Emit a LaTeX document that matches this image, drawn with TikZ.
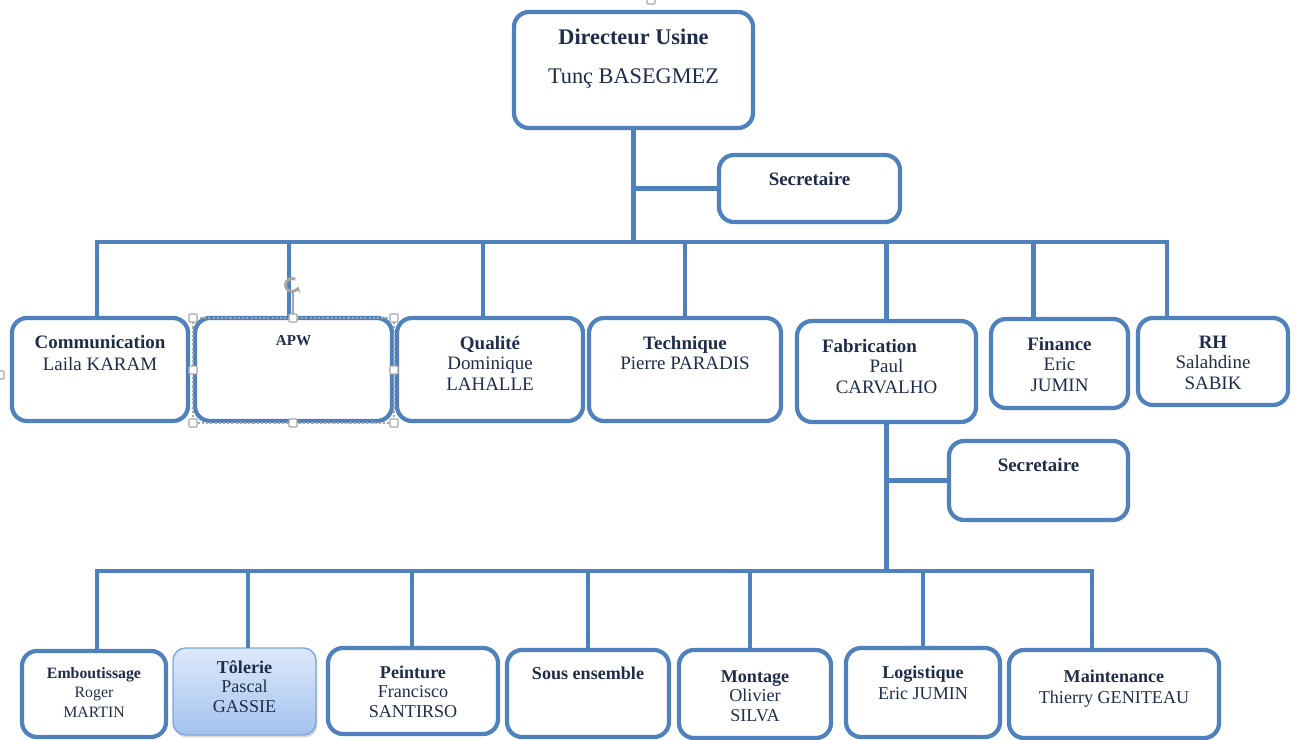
\documentclass[tikz,border=0pt]{standalone}
\usepackage{fontspec}
\setmainfont{Liberation Serif}
\usetikzlibrary{calc,shadows,arrows.meta}
\definecolor{orgline}{HTML}{4F81BD}
\definecolor{orgtext}{HTML}{1F2D4A}
\definecolor{handlegray}{HTML}{A6A6A6}
\definecolor{tolTop}{HTML}{DDE9FB}
\definecolor{tolBot}{HTML}{A3C2EE}
\definecolor{tolEdge}{HTML}{7FA5DA}
% one drawing unit = one pixel of the chart
\newlength\pxu
\setlength\pxu{0.02cm}
% box body: width, height, first baseline from top, lines
\newcommand\boxbody[4]{\parbox[c][#2\pxu][t]{#1\pxu}{\centering\rule{0pt}{#3\pxu}#4\par}}
\newcommand\fdir{\fontsize{12.7}{22.1}\selectfont}
\newcommand\fone{\fontsize{10.8}{11.9}\selectfont}
\newcommand\ftwo{\fontsize{10.3}{11.3}\selectfont}
\newcommand\fsmall{\fontsize{9}{11.1}\selectfont}
\newcommand\fapw{\fontsize{8.6}{10}\selectfont}
\tikzset{
  orgbox/.style={draw=orgline, line width=2.4pt, rounded corners=0.3cm, fill=white,
    inner sep=0pt, outer sep=0pt, text=orgtext, anchor=north west},
  tolbox/.style={orgbox, draw=tolEdge, line width=0.8pt, rounded corners=0.25cm,
    top color=tolTop, bottom color=tolBot,
    drop shadow={shadow xshift=0.8pt, shadow yshift=-1.4pt, fill=black!30}},
  link/.style={draw=orgline, line width=2.4pt},
  selframe/.style={draw=handlegray, line width=0.6pt, dash pattern=on 1.2pt off 1.2pt},
  handle/.style={draw=handlegray, fill=white, line width=0.6pt, rounded corners=0.5pt,
    minimum size=8\pxu, inner sep=0pt, outer sep=0pt},
}
\begin{document}
\begin{tikzpicture}[x=0.02cm, y=-0.02cm]
\useasboundingbox (0,0) rectangle (1296,740);
\fill[white] (0,0) rectangle (1296,740);

% ---- top level
\node[orgbox] (dir) at (514,12) {\boxbody{239}{116}{33}{\fdir\textbf{Directeur Usine}\\Tunç BASEGMEZ}};
\node[orgbox] (sec1) at (719,155) {\boxbody{181}{67}{31}{\fone\textbf{Secretaire}}};

% ---- departments
\node[orgbox] (comm) at (12,318)  {\boxbody{176}{103}{30}{\fone\textbf{Communication}\\[1pt]Laila KARAM}};
\node[orgbox] (apw)  at (195,318) {\boxbody{197}{103}{27}{\fapw\textbf{APW}}};
\node[orgbox] (qual) at (397,318) {\boxbody{186}{103}{31}{\fone\textbf{Qualité}\\Dominique\\LAHALLE}};
\node[orgbox] (tech) at (589,318) {\boxbody{192}{103}{31}{\fone\textbf{Technique}\\Pierre PARADIS}};
\node[orgbox] (fab)  at (797,321) {\boxbody{179}{101}{31}{\fone\textbf{Fabrication}\kern34\pxu\\Paul\\CARVALHO}};
\node[orgbox] (fin)  at (991,319) {\boxbody{137}{89}{31}{\fone\textbf{Finance}\\Eric\\JUMIN}};
\node[orgbox] (rh)   at (1138,318) {\boxbody{150}{87}{30}{\fone\textbf{RH}\\Salahdine\\SABIK}};
\node[orgbox] (sec2) at (949,441) {\boxbody{179}{79}{30}{\fone\textbf{Secretaire}}};

% ---- production units
\node[orgbox] (emb)  at (22,651)  {\boxbody{144}{86}{27}{\fsmall\textbf{Emboutissage}\\Roger\\MARTIN}};
\node[tolbox] (tol)  at (173,648) {\boxbody{143}{87}{25}{\ftwo\textbf{Tôlerie}\\Pascal\\GASSIE}};
\node[orgbox] (pei)  at (328,648) {\boxbody{170}{86}{30}{\ftwo\textbf{Peinture}\\Francisco\\SANTIRSO}};
\node[orgbox] (sous) at (507,650) {\boxbody{162}{87}{29}{\ftwo\textbf{Sous ensemble}}};
\node[orgbox] (mon)  at (679,650) {\boxbody{152}{88}{32}{\ftwo\textbf{Montage}\\Olivier\\SILVA}};
\node[orgbox] (log)  at (846,648) {\boxbody{154}{89}{30}{\ftwo\textbf{Logistique}\\[1pt]Eric JUMIN}};
\node[orgbox] (mnt)  at (1009,650) {\boxbody{210}{88}{32}{\ftwo\textbf{Maintenance}\\[1pt]Thierry GENITEAU}};

% ---- connectors, first level
\coordinate (bus1) at (632,242);
\draw[link] (dir.south) -- (dir.south |- bus1);
\draw[link] (sec1.west) -- (sec1.west -| dir.south);
\coordinate (comm-in) at ([xshift=-3\pxu]comm.north);
\coordinate (apw-in)  at ([xshift=-4.5\pxu]apw.north);
\coordinate (qual-in) at ([xshift=-7\pxu]qual.north);
\coordinate (fin-in)  at ([xshift=-26\pxu]fin.north);
\coordinate (rh-in)   at ([xshift=-46\pxu]rh.north);
\draw[link] (comm-in) -- (comm-in |- bus1) -- (rh-in |- bus1) -- (rh-in);
\draw[link] (apw-in) -- (apw-in |- bus1);
\draw[link] (qual-in) -- (qual-in |- bus1);
\draw[link] (tech.north) -- (tech.north |- bus1);
\draw[link] (fab.north) -- (fab.north |- bus1);
\draw[link] (fin-in) -- (fin-in |- bus1);

% ---- connectors, production
\coordinate (bus2) at (886,571);
\draw[link] (fab.south) -- (fab.south |- bus2);
\draw[link] (sec2.west) -- (sec2.west -| fab.south);
\coordinate (emb-in) at ([xshift=3\pxu]emb.north);
\coordinate (tol-in) at ([xshift=3.5\pxu]tol.north);
\coordinate (pei-in) at ([xshift=-1\pxu]pei.north);
\coordinate (mon-in) at ([xshift=-5\pxu]mon.north);
\coordinate (mnt-in) at ([xshift=-22\pxu]mnt.north);
\draw[link] (emb-in) -- (emb-in |- bus2) -- (mnt-in |- bus2) -- (mnt-in);
\draw[link] (tol-in) -- (tol-in |- bus2);
\draw[link] (pei-in) -- (pei-in |- bus2);
\draw[link] (sous.north) -- (sous.north |- bus2);
\draw[link] (mon-in) -- (mon-in |- bus2);
\draw[link] (log.north) -- (log.north |- bus2);

% ---- selection frame around APW
\draw[selframe] (193,318) rectangle (394,423);
\draw[handlegray, line width=0.8pt] (293,292) -- (293,318);
\draw[handlegray, line width=1.6pt, -{Stealth[length=3.2pt,width=4.5pt]}]
  (292,285) ++(-60:6.5) arc[start angle=-60, end angle=-345, radius=6.5];
\foreach \hx/\hy in {193/318, 293/318, 394/318, 193/370, 394/370, 193/423, 293/423, 394/423}
  \node[handle] at (\hx,\hy) {};
\node[handle] at (0,375) {};
\node[handle] at (651,0) {};
\end{tikzpicture}
\end{document}
